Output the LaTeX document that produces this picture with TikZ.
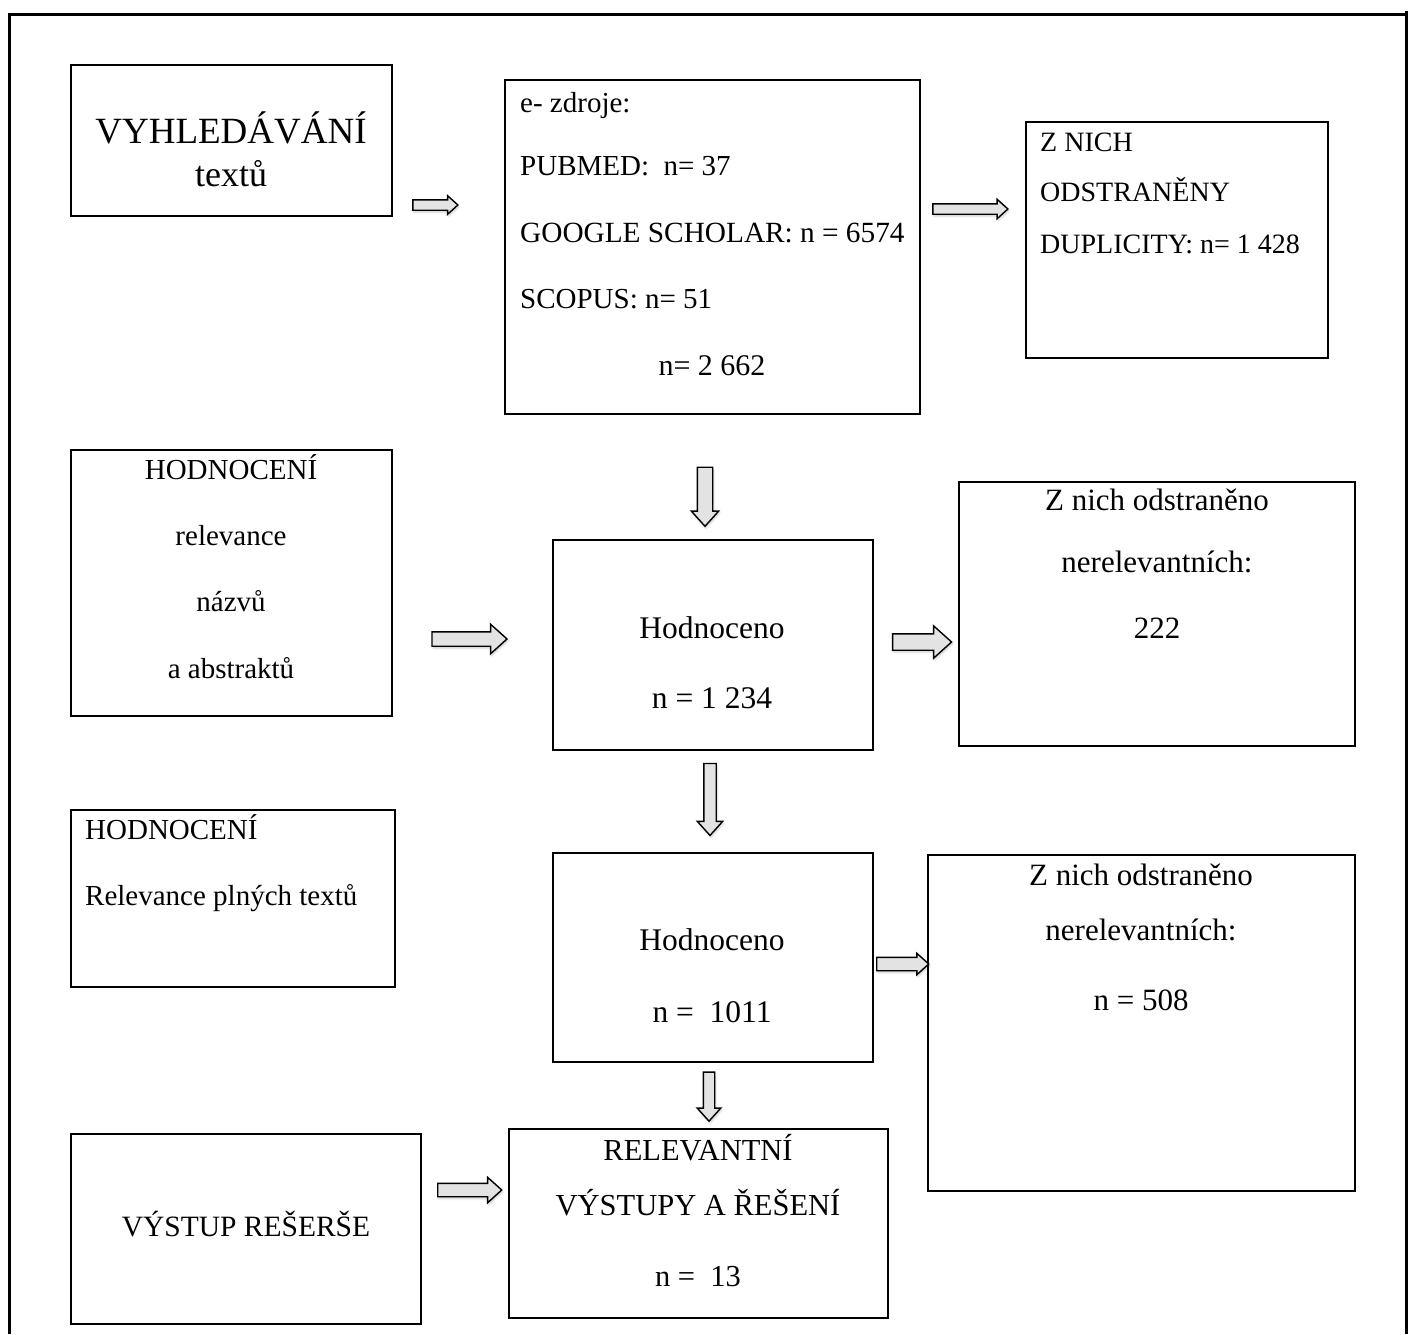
\documentclass[tikz,border=0pt]{standalone}
\usepackage{fontspec}
\setmainfont{Liberation Serif}
\usetikzlibrary{shapes.arrows,shadows.blur}
\newcommand\fs[1]{\fontsize{#1}{#1}\selectfont}
\begin{document}
\begin{tikzpicture}[x=1pt,y=-1pt,
  box/.style={draw=black, line width=2.8pt, rectangle, inner sep=0pt},
  txt/.style={inner sep=0pt, anchor=mid, yshift=-5pt},
  ltxt/.style={inner sep=0pt, anchor=mid west, yshift=-5pt},
  blk/.style={single arrow, draw=black, line width=1.4pt, fill=gray!22,
     inner xsep=0pt, single arrow tip angle=84,
     blur shadow={shadow xshift=1pt, shadow yshift=-2pt, shadow opacity=20, shadow blur steps=4}},
]
\useasboundingbox (0,0) rectangle (1420,1334);
% outer frame
\coordinate (fTL) at (9,14);
\coordinate (fTR) at (1406,14);
\coordinate (fBL) at (9,1334);
\coordinate (fBR) at (1406,1334);
\draw[line width=3pt] (fBL) -- (fTL) -- ([xshift=2pt]fTR);
\draw[line width=3pt] ([yshift=3pt]fTR) -- (fBR);

% boxes
\node[box, minimum width=321pt, minimum height=151pt] (b1) at (231.5,140.5) {};
\node[box, minimum width=415pt, minimum height=334pt] (b2) at (712.5,247) {};
\node[box, minimum width=302pt, minimum height=236pt] (b3) at (1177,240) {};
\node[box, minimum width=321pt, minimum height=266pt] (b4) at (231.5,583) {};
\node[box, minimum width=320pt, minimum height=210pt] (b5) at (713,645) {};
\node[box, minimum width=396pt, minimum height=264pt] (b6) at (1157,614) {};
\node[box, minimum width=324pt, minimum height=177pt] (b7) at (233,898.5) {};
\node[box, minimum width=320pt, minimum height=209pt] (b8) at (713,957.5) {};
\node[box, minimum width=427pt, minimum height=336pt] (b9) at (1141.5,1023) {};
\node[box, minimum width=350pt, minimum height=190pt] (b10) at (246,1229) {};
\node[box, minimum width=379pt, minimum height=189pt] (b11) at (698.5,1223.5) {};

% texts box 1
\node[txt] (t1a) at (231,136) {\fs{37}VYHLEDÁVÁNÍ};
\node[txt] (t1b) at (231,179) {\fs{36}textů};
% box 2
\node[ltxt] (t2a) at (520,105) {\fs{29}e- zdroje:};
\node[ltxt] (t2b) at (520,168) {\fs{29}PUBMED:\ \ n= 37};
\node[ltxt] (t2c) at (520,235) {\fs{29.3}GOOGLE SCHOLAR: n = 6574};
\node[ltxt] (t2d) at (520,301) {\fs{29}SCOPUS: n= 51};
\node[txt] (t2e) at (712,368) {\fs{30}n= 2 662};
% box 3
\node[ltxt] (t3a) at (1040,144) {\fs{28}Z NICH};
\node[ltxt] (t3b) at (1040,194) {\fs{28}ODSTRANĚNY};
\node[ltxt] (t3c) at (1040,246) {\fs{28}DUPLICITY: n= 1 428};
% box 4
\node[txt] (t4a) at (231,472) {\fs{29}HODNOCENÍ};
\node[txt] (t4b) at (231,538) {\fs{29}relevance};
\node[txt] (t4c) at (231,604) {\fs{29}názvů};
\node[txt] (t4d) at (231,671) {\fs{29}a abstraktů};
% box 5
\node[txt] (t5a) at (712,631) {\fs{31.5}Hodnoceno};
\node[txt] (t5b) at (712,701) {\fs{31.5}n = 1 234};
% box 6
\node[txt] (t6a) at (1157,503) {\fs{31}Z nich odstraněno};
\node[txt] (t6b) at (1157,565) {\fs{31}nerelevantních:};
\node[txt] (t6c) at (1157,631) {\fs{31}222};
% box 7
\node[ltxt] (t7a) at (85,832) {\fs{29}HODNOCENÍ};
\node[ltxt] (t7b) at (85,898) {\fs{29}Relevance plných textů};
% box 8
\node[txt] (t8a) at (712,943) {\fs{31.5}Hodnoceno};
\node[txt] (t8b) at (712,1015) {\fs{31.5}n =\ \ 1011};
% box 9
\node[txt] (t9a) at (1141,878) {\fs{31}Z nich odstraněno};
\node[txt] (t9b) at (1141,933) {\fs{31}nerelevantních:};
\node[txt] (t9c) at (1141,1003) {\fs{31}n = 508};
% box 10
\node[txt] (t10) at (246,1229) {\fs{29.5}VÝSTUP REŠERŠE};
% box 11
\node[txt] (t11a) at (698,1153) {\fs{30.5}RELEVANTNÍ};
\node[txt] (t11b) at (698,1208) {\fs{30.5}VÝSTUPY A ŘEŠENÍ};
\node[txt] (t11c) at (698,1279) {\fs{30.5}n =\ \ 13};

% block arrows
\node[blk, minimum height=45pt, inner ysep=4.5pt, single arrow head extend=4pt] (a1) at (432.5,205) {};
\node[blk, minimum height=75pt, inner ysep=4.5pt, single arrow head extend=4.5pt] (a2) at (967.5,209) {};
\node[blk, rotate=-90, minimum height=59pt, inner ysep=7pt, single arrow head extend=6pt] (a3) at (705,492.5) {};
\node[blk, minimum height=75pt, inner ysep=6.5pt, single arrow head extend=7.5pt] (a4) at (465.5,639) {};
\node[blk, minimum height=59pt, inner ysep=7.5pt, single arrow head extend=8pt] (a5) at (917.5,642) {};
\node[blk, rotate=-90, minimum height=72pt, inner ysep=5.5pt, single arrow head extend=6.5pt] (a6) at (710,796) {};
\node[blk, minimum height=52pt, inner ysep=6pt, single arrow head extend=4pt] (a7) at (899,964) {};
\node[blk, rotate=-90, minimum height=49pt, inner ysep=5pt, single arrow head extend=6pt] (a8) at (709,1093.5) {};
\node[blk, minimum height=64pt, inner ysep=6pt, single arrow head extend=6pt] (a9) at (466,1190) {};
\end{tikzpicture}
\end{document}
